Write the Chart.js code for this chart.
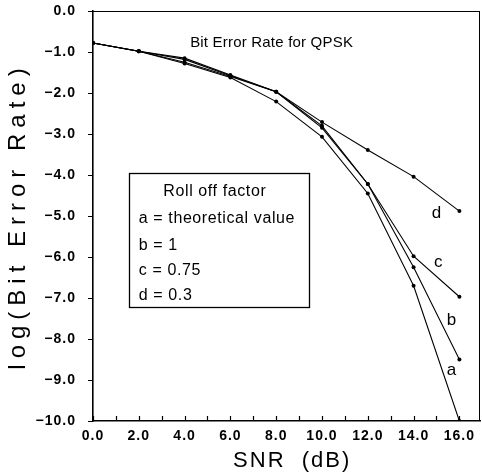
<!DOCTYPE html>
<html>
<head>
<meta charset="utf-8">
<script src="https://cdn.jsdelivr.net/npm/chart.js@4/dist/chart.umd.min.js"></script>
<style>
html,body{margin:0;padding:0;background:#fff;}
#wrap{width:482px;height:473px;position:relative;}
</style>
</head>
<body>
<div id="wrap"><canvas id="c" width="482" height="473"></canvas></div>
<script>
// ---- data ----
const snr = [0, 2, 4, 6, 8, 10, 12, 14, 16];
const berA = [-0.78, -0.98, -1.28, -1.62, -2.21, -3.07, -4.45, -6.70, -10.0];
const berB = [-0.78, -0.98, -1.25, -1.60, -1.97, -2.85, -4.22, -6.25, -8.50];
const berC = [-0.78, -0.98, -1.18, -1.58, -1.97, -2.80, -4.22, -5.98, -6.97];
const berD = [-0.78, -0.98, -1.15, -1.56, -1.97, -2.71, -3.39, -4.04, -4.88];
const seriesNames = ['a', 'b', 'c', 'd'];
const seriesValues = ['theoretical value', '1', '0.75', '0.3'];
const xTicks = [0,1,2,3,4,5,6,7,8,9,10,11,12,13,14,15,16];
const xTickLabels = ['0.0','','2.0','','4.0','','6.0','','8.0','','10.0','','12.0','','14.0','','16.0'];
const yTicks = [0,-1,-2,-3,-4,-5,-6,-7,-8,-9,-10];
const yTickLabels = ['0.0','\u22121.0','\u22122.0','\u22123.0','\u22124.0','\u22125.0','\u22126.0','\u22127.0','\u22128.0','\u22129.0','\u221210.0'];
const chartTitle = 'Bit Error Rate for QPSK';
const legendTitle = 'Roll off factor';
const xTitle = 'SNR  (dB)';
const yTitle = 'log(Bit Error Rate)';
// annotation anchor points (data units)
const labelX = [15.65, 15.65, 15.08, 15.0];
const labelY = [-8.76, -7.54, -6.12, -4.93];

const mk = (data) => ({
  data: snr.map((x, i) => ({x, y: data[i]})),
  borderColor: '#000', backgroundColor: '#000', borderWidth: 1.1,
  pointRadius: 2, pointHoverRadius: 2, pointBorderWidth: 0, tension: 0
});

const deco = {
  id: 'deco',
  beforeDraw(chart) { chart.ctx.letterSpacing = '1px'; },
  beforeDatasetsDraw(chart) { chart.ctx.letterSpacing = '0px'; },
  afterDraw(chart) {
    const ctx = chart.ctx, xs = chart.scales.x, ys = chart.scales.y, a = chart.chartArea;
    ctx.save();
    ctx.strokeStyle = '#000';
    // frame top/right
    ctx.lineWidth = 1;
    ctx.beginPath();
    ctx.moveTo(a.left, a.top + 0.5); ctx.lineTo(a.right, a.top + 0.5);
    ctx.moveTo(a.right - 0.5, a.top); ctx.lineTo(a.right - 0.5, a.bottom);
    ctx.stroke();
    // tick marks
    ctx.lineWidth = 1.2;
    ctx.beginPath();
    xTicks.forEach(v => { const px = Math.round(xs.getPixelForValue(v)) + 0.5; ctx.moveTo(px, a.bottom); ctx.lineTo(px, a.bottom - 5); });
    yTicks.forEach(v => { const py = Math.round(ys.getPixelForValue(v)) + 0.5; ctx.moveTo(a.left, py); ctx.lineTo(a.left - 5, py); });
    ctx.stroke();

    ctx.fillStyle = '#000';
    // chart title inside plot
    ctx.font = '15px "Liberation Sans", Arial, sans-serif';
    ctx.letterSpacing = '0.2px';
    ctx.textAlign = 'center'; ctx.textBaseline = 'middle';
    ctx.fillText(chartTitle, xs.getPixelForValue(7.8), ys.getPixelForValue(-0.78));

    // legend box
    const bx0 = xs.getPixelForValue(1.57), bx1 = xs.getPixelForValue(9.45);
    const by0 = ys.getPixelForValue(-3.95), by1 = ys.getPixelForValue(-7.22);
    ctx.lineWidth = 1.3;
    ctx.strokeRect(Math.round(bx0) + 0.5, Math.round(by0) + 0.5, Math.round(bx1 - bx0), Math.round(by1 - by0));
    ctx.font = '16px "Liberation Sans", Arial, sans-serif';
    ctx.letterSpacing = '0.6px';
    ctx.textAlign = 'center';
    ctx.fillText(legendTitle, xs.getPixelForValue(5.32), ys.getPixelForValue(-4.41));
    ctx.textAlign = 'left';
    const rowsY = [-5.07, -5.71, -6.34, -6.95];
    seriesNames.forEach((n, i) => {
      ctx.fillText(n + ' = ' + seriesValues[i], xs.getPixelForValue(2.0), ys.getPixelForValue(rowsY[i]));
    });
    // series labels
    ctx.font = '17px "Liberation Sans", Arial, sans-serif';
    ctx.letterSpacing = '0px';
    ctx.textAlign = 'center';
    seriesNames.forEach((n, i) => {
      ctx.fillText(n, xs.getPixelForValue(labelX[i]), ys.getPixelForValue(labelY[i]));
    });
    // axis titles
    ctx.font = '22px "Liberation Sans", Arial, sans-serif';
    ctx.letterSpacing = '2px';
    ctx.fillText(xTitle, xs.getPixelForValue(8.7), 461);
    ctx.save();
    ctx.translate(18, (a.top + a.bottom) / 2);
    ctx.rotate(-Math.PI / 2);
    ctx.font = '24px "Liberation Sans", Arial, sans-serif';
    ctx.letterSpacing = '6px';
    ctx.fillText(yTitle, 0, 0);
    ctx.restore();
    ctx.restore();
  }
};

new Chart(document.getElementById('c'), {
  type: 'line',
  data: { datasets: [mk(berD), mk(berC), mk(berB), mk(berA)] },
  options: {
    responsive: false, animation: false, events: [],
    layout: { padding: { top: 11, right: 1, left: 0, bottom: 0 } },
    plugins: { legend: { display: false }, tooltip: { enabled: false }, title: { display: false } },
    scales: {
      x: {
        type: 'linear', min: 0, max: 16.9,
        afterBuildTicks: s => { s.ticks = xTicks.map(v => ({value: v})); },
        afterFit: s => { s.height = 52; s.paddingLeft = 0; s.paddingRight = 0; },
        grid: { display: false, drawTicks: false },
        border: { display: true, color: '#000', width: 1.6 },
        ticks: {
          autoSkip: false, maxRotation: 0, padding: 7, color: '#000',
          font: { family: '"Liberation Sans", Arial, sans-serif', size: 14, weight: 'bold' },
          callback: (v) => { const i = xTicks.indexOf(v); return i >= 0 ? xTickLabels[i] : ''; }
        }
      },
      y: {
        type: 'linear', min: -10, max: 0,
        afterBuildTicks: s => { s.ticks = yTicks.map(v => ({value: v})); },
        afterFit: s => { s.width = 93; s.paddingTop = 0; s.paddingBottom = 0; },
        grid: { display: false, drawTicks: false },
        border: { display: true, color: '#000', width: 1.6 },
        ticks: {
          autoSkip: false, padding: 17, color: '#000',
          font: { family: '"Liberation Sans", Arial, sans-serif', size: 14, weight: 'bold' },
          callback: (v) => { const i = yTicks.indexOf(v); return i >= 0 ? yTickLabels[i] : ''; }
        }
      }
    }
  },
  plugins: [deco]
});
</script>
</body>
</html>
